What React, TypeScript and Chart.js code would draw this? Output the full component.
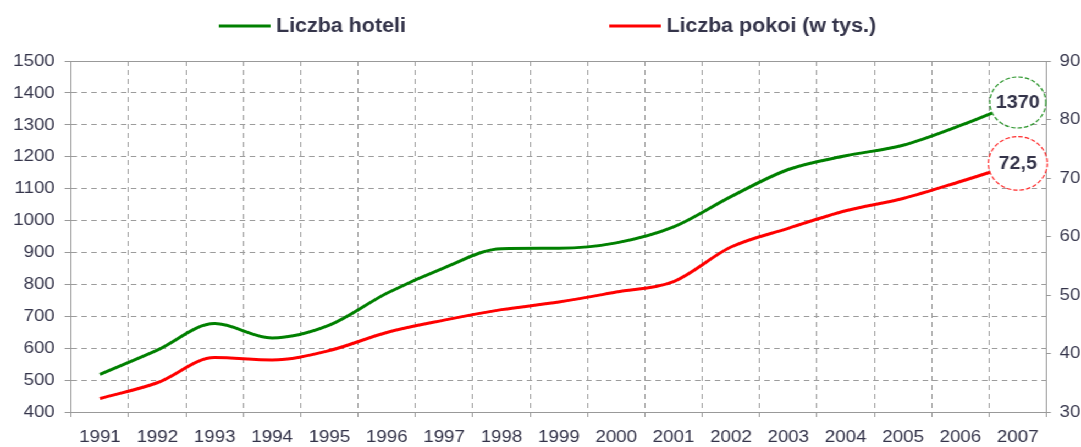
import React, { useEffect, useRef } from 'react';
import { Chart, registerables } from 'chart.js';

Chart.register(...registerables);

// ---- data ----
const years = ['1991', '1992', '1993', '1994', '1995', '1996', '1997', '1998', '1999', '2000', '2001', '2002', '2003', '2004', '2005', '2006', '2007'];
const seriesNames = ['Liczba hoteli', 'Liczba pokoi (w tys.)'];
const hotels = [518, 594, 677, 632, 672, 772, 852, 912, 913, 930, 980, 1075, 1160, 1203, 1236, 1298, 1370];
const rooms = [32.3, 35.0, 39.3, 38.9, 40.5, 43.6, 45.7, 47.5, 48.8, 50.5, 52.3, 58.2, 61.4, 64.4, 66.5, 69.4, 72.5];
const leftAxisRange = [400, 1500, 100]; // min, max, step
const rightAxisRange = [30, 90, 10];

// ---- style ----
const CANVAS_W = 983;
const CANVAS_H = 447;
const STRETCH = 1081 / CANVAS_W;
const FAMILY = "'Liberation Sans', Arial, sans-serif";
const TEXT = '#34344a';
const GRID = '#9c9c9c';
const AXIS = '#999999';
const COLORS = ['#008000', '#ff0000'];
const CALLOUT_STROKE = ['#2a952a', '#ff2a2a'];
const CALLOUT_R = [25.5, 26.8];

const plainNumber = (v: any) => String(v);

const framePlugin = {
  id: 'frameTop',
  afterDraw(chart: any) {
    const { ctx, chartArea } = chart;
    ctx.save();
    ctx.strokeStyle = AXIS;
    ctx.lineWidth = 1;
    const y = Math.round(chartArea.top) + 0.5;
    ctx.beginPath();
    ctx.moveTo(chartArea.left, y);
    ctx.lineTo(chartArea.right, y);
    ctx.stroke();
    ctx.restore();
  },
};

const legendPlugin = {
  id: 'customLegend',
  afterDraw(chart: any) {
    const { ctx } = chart;
    const starts = [199, 554];
    const y = 26;
    ctx.save();
    ctx.font = `bold 19.5px ${FAMILY}`;
    ctx.textBaseline = 'middle';
    ctx.textAlign = 'left';
    chart.data.datasets.forEach((ds: any, i: number) => {
      const x = starts[i];
      ctx.strokeStyle = ds.borderColor;
      ctx.lineWidth = 3;
      ctx.beginPath();
      ctx.moveTo(x, y);
      ctx.lineTo(x + 47, y);
      ctx.stroke();
      ctx.fillStyle = TEXT;
      ctx.fillText(ds.label, x + 52, y + 1);
    });
    ctx.restore();
  },
};

const calloutPlugin = {
  id: 'callouts',
  afterDatasetsDraw(chart: any) {
    const { ctx } = chart;
    ctx.save();
    chart.data.datasets.forEach((ds: any, i: number) => {
      const meta = chart.getDatasetMeta(i);
      const last = meta.data.length - 1;
      const el = meta.data[last];
      if (!el) return;
      const v = ds.data[last];
      ctx.beginPath();
      ctx.arc(el.x, el.y, CALLOUT_R[i], 0, Math.PI * 2);
      ctx.fillStyle = '#ffffff';
      ctx.fill();
      ctx.setLineDash([4, 2]);
      ctx.lineWidth = 1.2;
      ctx.strokeStyle = CALLOUT_STROKE[i];
      ctx.stroke();
      ctx.setLineDash([]);
      ctx.fillStyle = TEXT;
      ctx.font = `bold 18px ${FAMILY}`;
      ctx.textAlign = 'center';
      ctx.textBaseline = 'middle';
      ctx.fillText(String(v).replace('.', ','), el.x, el.y + 1);
    });
    ctx.restore();
  },
};

export default function App() {
  const ref = useRef<HTMLCanvasElement | null>(null);

  useEffect(() => {
    if (!ref.current) return;
    const tickFont = { family: FAMILY, size: 17 };
    const chart = new Chart(ref.current, {
      type: 'line',
      data: {
        labels: years,
        datasets: [
          {
            label: seriesNames[0],
            data: hotels,
            borderColor: COLORS[0],
            backgroundColor: COLORS[0],
            borderWidth: 3,
            pointRadius: 0,
            cubicInterpolationMode: 'monotone',
            yAxisID: 'y',
          },
          {
            label: seriesNames[1],
            data: rooms,
            borderColor: COLORS[1],
            backgroundColor: COLORS[1],
            borderWidth: 3,
            pointRadius: 0,
            cubicInterpolationMode: 'monotone',
            yAxisID: 'y1',
          },
        ],
      },
      options: {
        responsive: false,
        animation: false,
        events: [],
        layout: { padding: { top: 61, left: 0, right: 0, bottom: 0 } },
        plugins: { legend: { display: false }, tooltip: { enabled: false } },
        scales: {
          x: {
            type: 'category',
            offset: true,
            grid: { offset: true, color: GRID, lineWidth: 1, tickLength: 5, tickColor: AXIS },
            border: { color: AXIS, dash: [5, 4] },
            ticks: { font: tickFont, color: TEXT, padding: 10, maxRotation: 0, autoSkip: false },
            afterFit: (s: any) => { s.height = 35; },
          },
          y: {
            type: 'linear',
            position: 'left',
            min: leftAxisRange[0],
            max: leftAxisRange[1],
            ticks: { stepSize: leftAxisRange[2], font: tickFont, color: TEXT, padding: 9, callback: plainNumber },
            grid: { color: GRID, lineWidth: 1, tickLength: 6, tickColor: AXIS },
            border: { color: AXIS, dash: [5, 4] },
            afterFit: (s: any) => { s.width = 64.8; },
          },
          y1: {
            type: 'linear',
            position: 'right',
            min: rightAxisRange[0],
            max: rightAxisRange[1],
            ticks: { stepSize: rightAxisRange[2], font: tickFont, color: TEXT, padding: 8, callback: plainNumber },
            grid: { drawOnChartArea: false, color: AXIS, tickLength: 4 },
            border: { color: AXIS },
            afterFit: (s: any) => { s.width = 31.4; },
          },
        },
      },
      plugins: [framePlugin, legendPlugin, calloutPlugin],
    } as any);
    return () => chart.destroy();
  }, []);

  return (
    <div
      style={{
        position: 'fixed',
        left: 0,
        top: 0,
        width: CANVAS_W,
        height: CANVAS_H,
        transform: `scaleX(${STRETCH})`,
        transformOrigin: '0 0',
        background: '#ffffff',
      }}
    >
      <canvas ref={ref} width={CANVAS_W} height={CANVAS_H} />
    </div>
  );
}
